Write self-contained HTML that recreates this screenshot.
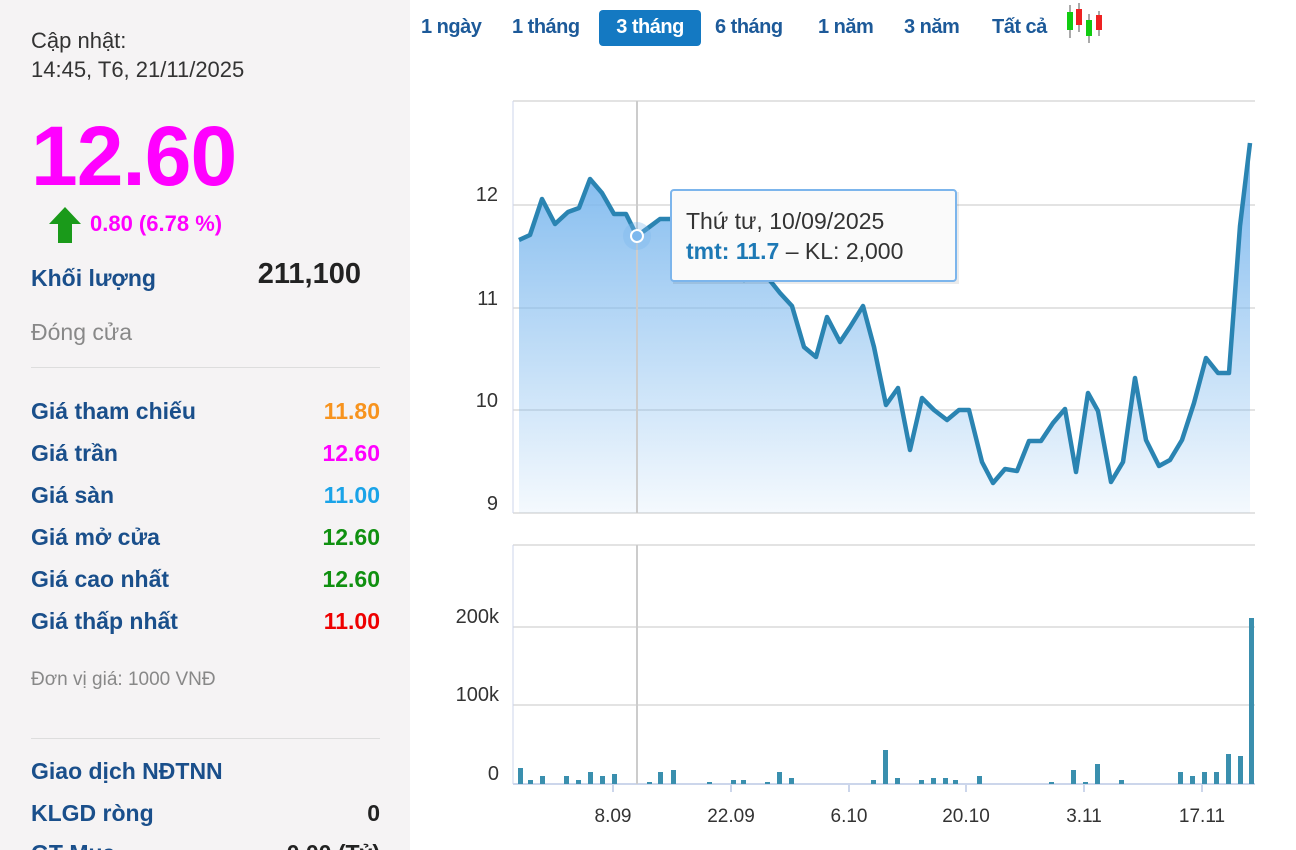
<!DOCTYPE html>
<html><head><meta charset="utf-8"><style>
body{margin:0;width:1296px;height:850px;overflow:hidden;background:#fff;font-family:"Liberation Sans",sans-serif;position:relative}
#left{position:absolute;left:0;top:0;width:410px;height:850px;background:#f5f3f4;overflow:hidden}
.t{position:absolute;white-space:nowrap}
.row{position:absolute;left:31px;width:349px;font-size:23px;font-weight:bold;color:#1a4f8b}
.row span{position:absolute;right:0;top:0}
.btn{position:absolute;top:10px;height:36px;line-height:34px;font-size:20px;font-weight:bold;color:#1d5a99;letter-spacing:-0.5px}
</style></head><body>
<div id="left">
<div class="t" style="left:31px;top:28px;font-size:22px;color:#333">Cập nhật:</div>
<div class="t" style="left:31px;top:57px;font-size:22px;color:#333">14:45, T6, 21/11/2025</div>
<div class="t" style="left:31px;top:108px;font-size:84px;font-weight:bold;color:#f0f;letter-spacing:-1px">12.60</div>
<svg style="position:absolute;left:48px;top:206px" width="34" height="38"><polygon points="17,1 33,18 24,18 24,37 10,37 10,18 1,18" fill="#1a9a1a"/></svg>
<div class="t" style="left:90px;top:211px;font-size:22px;font-weight:bold;color:#f0f">0.80 (6.78 %)</div>
<div class="row" style="top:265px">Khối lượng<span style="color:#222;font-size:29px;top:-7px;right:19px">211,100</span></div>
<div class="t" style="left:31px;top:319px;font-size:23px;color:#888">Đóng cửa</div>
<div style="position:absolute;left:31px;top:367px;width:349px;border-top:1px solid #ddd"></div>
<div class="row" style="top:398px">Giá tham chiếu<span style="color:#f7931e">11.80</span></div>
<div class="row" style="top:440px">Giá trần<span style="color:#f0f">12.60</span></div>
<div class="row" style="top:482px">Giá sàn<span style="color:#1aa3e8">11.00</span></div>
<div class="row" style="top:524px">Giá mở cửa<span style="color:#109010">12.60</span></div>
<div class="row" style="top:566px">Giá cao nhất<span style="color:#109010">12.60</span></div>
<div class="row" style="top:608px">Giá thấp nhất<span style="color:#e00">11.00</span></div>
<div class="t" style="left:31px;top:669px;font-size:19px;color:#888">Đơn vị giá: 1000 VNĐ</div>
<div style="position:absolute;left:31px;top:738px;width:349px;border-top:1px solid #ddd"></div>
<div class="row" style="top:758px">Giao dịch NĐTNN</div>
<div class="row" style="top:800px">KLGD ròng<span style="color:#222">0</span></div>
<div class="row" style="top:840px">GT Mua<span style="color:#222">0.00 (Tỷ)</span></div>
</div>
<div class="btn" style="left:421px">1 ngày</div>
<div class="btn" style="left:512px">1 tháng</div>
<div class="btn" style="left:599px;width:102px;background:#1479c2;color:#fff;border-radius:4px;text-align:center">3 tháng</div>
<div class="btn" style="left:715px">6 tháng</div>
<div class="btn" style="left:818px">1 năm</div>
<div class="btn" style="left:904px">3 năm</div>
<div class="btn" style="left:992px">Tất cả</div>
<svg style="position:absolute;left:1062px;top:2px" width="46" height="42">
<g stroke="#555" stroke-width="1"><line x1="8" y1="3" x2="8" y2="36"/><line x1="17" y1="1" x2="17" y2="30"/><line x1="27" y1="12" x2="27" y2="41"/><line x1="37" y1="9" x2="37" y2="34"/></g>
<rect x="5" y="10" width="6" height="18" fill="#1c1"/><rect x="14" y="7" width="6" height="16" fill="#e22"/><rect x="24" y="18" width="6" height="16" fill="#1c1"/><rect x="34" y="13" width="6" height="15" fill="#e22"/>
</svg>
<svg style="position:absolute;left:0;top:0" width="1296" height="850">
<defs><linearGradient id="g" x1="0" y1="0" x2="0" y2="1"><stop offset="0" stop-color="#7cb8ee"/><stop offset="1" stop-color="#7cb8ee" stop-opacity="0.08"/></linearGradient></defs>
<g stroke="#e3e3e3" stroke-width="2"><line x1="513" y1="101" x2="1255" y2="101"/><line x1="513" y1="205" x2="1255" y2="205"/><line x1="513" y1="308" x2="1255" y2="308"/><line x1="513" y1="410" x2="1255" y2="410"/><line x1="513" y1="513" x2="1255" y2="513"/>
<line x1="513" y1="545" x2="1255" y2="545"/><line x1="513" y1="627" x2="1255" y2="627"/><line x1="513" y1="705" x2="1255" y2="705"/></g>
<line x1="513" y1="101" x2="513" y2="513" stroke="#ccd6eb" stroke-width="1"/>
<line x1="513" y1="545" x2="513" y2="784" stroke="#ccd6eb" stroke-width="1"/>
<line x1="513" y1="784" x2="1255" y2="784" stroke="#ccd6eb" stroke-width="2"/>
<g stroke="#ccd6eb" stroke-width="2"><line x1="613" y1="784" x2="613" y2="792"/><line x1="731" y1="784" x2="731" y2="792"/><line x1="849" y1="784" x2="849" y2="792"/><line x1="966" y1="784" x2="966" y2="792"/><line x1="1084" y1="784" x2="1084" y2="792"/><line x1="1202" y1="784" x2="1202" y2="792"/></g>
<polygon fill="url(#g)" points="519,513 519,240 530,235 542,199 555,224 568,212 579,208 590,179 602,193 614,214 626,214 637,236 648,228 660,219 672,219 684,219 696,215 708,209 720,240 732,265 744,280 756,270 768,278 780,293 792,306 804,347 816,357 827,317 840,342 850,327 863,306 874,347 886,405 898,388 910,450 922,398 934,410 947,420 959,410 969,410 982,462 993,483 1005,469 1017,471 1029,441 1041,441 1053,423 1065,409 1076,472 1088,393 1098,411 1111,482 1123,462 1135,378 1146,440 1159,466 1170,460 1182,440 1194,403 1206,358 1218,373 1229,373 1240,226 1250,143 1250,513"/>
<polyline fill="none" stroke="#2a84b2" stroke-width="4.5" stroke-linejoin="round" points="519,240 530,235 542,199 555,224 568,212 579,208 590,179 602,193 614,214 626,214 637,236 648,228 660,219 672,219 684,219 696,215 708,209 720,240 732,265 744,280 756,270 768,278 780,293 792,306 804,347 816,357 827,317 840,342 850,327 863,306 874,347 886,405 898,388 910,450 922,398 934,410 947,420 959,410 969,410 982,462 993,483 1005,469 1017,471 1029,441 1041,441 1053,423 1065,409 1076,472 1088,393 1098,411 1111,482 1123,462 1135,378 1146,440 1159,466 1170,460 1182,440 1194,403 1206,358 1218,373 1229,373 1240,226 1250,143"/>
<line x1="637" y1="101" x2="637" y2="513" stroke="#ccc" stroke-width="2"/>
<line x1="637" y1="545" x2="637" y2="784" stroke="#ccc" stroke-width="2"/>
<circle cx="637" cy="236" r="14" fill="#7cb8ee" opacity="0.35"/>
<circle cx="637" cy="236" r="6" fill="#7cb8ee" stroke="#fff" stroke-width="2"/>
<g fill="#3a8fae">
<rect x="518" y="768" width="5" height="16"/><rect x="528" y="780" width="5" height="4"/><rect x="540" y="776" width="5" height="8"/><rect x="564" y="776" width="5" height="8"/><rect x="576" y="780" width="5" height="4"/><rect x="588" y="772" width="5" height="12"/><rect x="600" y="776" width="5" height="8"/><rect x="612" y="774" width="5" height="10"/>
<rect x="647" y="782" width="5" height="2"/><rect x="658" y="772" width="5" height="12"/><rect x="671" y="770" width="5" height="14"/><rect x="707" y="782" width="5" height="2"/><rect x="731" y="780" width="5" height="4"/><rect x="741" y="780" width="5" height="4"/><rect x="765" y="782" width="5" height="2"/><rect x="777" y="772" width="5" height="12"/><rect x="789" y="778" width="5" height="6"/>
<rect x="871" y="780" width="5" height="4"/><rect x="883" y="750" width="5" height="34"/><rect x="895" y="778" width="5" height="6"/><rect x="919" y="780" width="5" height="4"/><rect x="931" y="778" width="5" height="6"/><rect x="943" y="778" width="5" height="6"/><rect x="953" y="780" width="5" height="4"/><rect x="977" y="776" width="5" height="8"/>
<rect x="1049" y="782" width="5" height="2"/><rect x="1071" y="770" width="5" height="14"/><rect x="1083" y="782" width="5" height="2"/><rect x="1095" y="764" width="5" height="20"/><rect x="1119" y="780" width="5" height="4"/>
<rect x="1178" y="772" width="5" height="12"/><rect x="1190" y="776" width="5" height="8"/><rect x="1202" y="772" width="5" height="12"/><rect x="1214" y="772" width="5" height="12"/><rect x="1226" y="754" width="5" height="30"/><rect x="1238" y="756" width="5" height="28"/><rect x="1249" y="618" width="5" height="166"/>
</g>
<g font-size="20" fill="#333" text-anchor="end"><text x="498" y="201">12</text><text x="498" y="305">11</text><text x="498" y="407">10</text><text x="498" y="510">9</text>
<text x="499" y="623">200k</text><text x="499" y="701">100k</text><text x="499" y="780">0</text></g>
<g font-size="19" fill="#333" text-anchor="middle"><text x="613" y="822">8.09</text><text x="731" y="822">22.09</text><text x="849" y="822">6.10</text><text x="966" y="822">20.10</text><text x="1084" y="822">3.11</text><text x="1202" y="822">17.11</text></g>
<rect x="673" y="192" width="286" height="92" fill="#000" opacity="0.08"/>
<rect x="671" y="190" width="285" height="91" fill="#fafafa" stroke="#7cb5ec" stroke-width="2" rx="3"/>
<text x="686" y="229" font-size="23" fill="#333">Thứ tư, 10/09/2025</text>
<text x="686" y="259" font-size="23" fill="#333"><tspan fill="#1d79b5" font-weight="bold">tmt: 11.7</tspan> – KL: 2,000</text>
</svg>
</body></html>
